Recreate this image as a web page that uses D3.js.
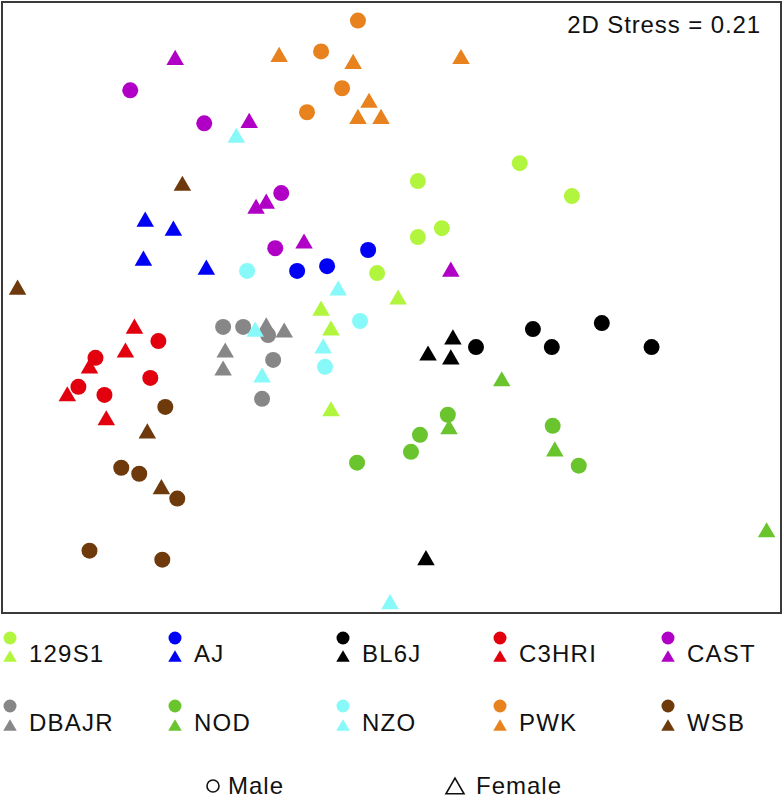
<!DOCTYPE html>
<html>
<head>
<meta charset="utf-8">
<script src="https://cdn.jsdelivr.net/npm/d3@7"></script>
<style>
  html, body { margin: 0; padding: 0; background: #fff; }
  svg { display: block; }
  text { font-family: "Liberation Sans", Arial, Helvetica, sans-serif; fill: #111; }
</style>
</head>
<body>
<svg id="chart" width="783" height="801"></svg>
<script>
// ---------------- data (NMDS coordinates) ----------------
const strains = ["129S1", "AJ", "BL6J", "C3HRI", "CAST", "DBAJR", "NOD", "NZO", "PWK", "WSB"];
const strainColors = ["#B2F53F", "#0000F5", "#000000", "#E3000E", "#B000C6", "#878787", "#6AC42E", "#88F9F9", "#E8821F", "#6E3A0C"];
const stressLabel = "2D Stress = 0.21";
const sexLabels = ["Male", "Female"];

const male129S1   = [[0.428,0.482],[0.088,0.422],[0.602,0.372],[0.168,0.265],[0.088,0.235],[-0.048,0.115]];
const female129S1 = [[0.022,0.035],[-0.235,-0.002],[-0.202,-0.068],[-0.202,-0.338]];
const maleAJ      = [[-0.078,0.192],[-0.315,0.122],[-0.215,0.138]];
const femaleAJ    = [[-0.822,0.295],[-0.728,0.265],[-0.828,0.165],[-0.618,0.135]];
const maleBL6J    = [[0.282,-0.132],[0.472,-0.072],[0.535,-0.132],[0.702,-0.052],[0.868,-0.132]];
const femaleBL6J  = [[0.122,-0.152],[0.205,-0.098],[0.198,-0.165],[0.115,-0.835]];
const maleC3HRI   = [[-0.778,-0.112],[-0.988,-0.168],[-0.805,-0.235],[-1.045,-0.265],[-0.958,-0.292]];
const femaleC3HRI = [[-0.858,-0.062],[-0.888,-0.142],[-1.008,-0.195],[-1.082,-0.288],[-0.952,-0.368]];
const maleCAST    = [[-0.872,0.725],[-0.625,0.615],[-0.368,0.382],[-0.388,0.198]];
const femaleCAST  = [[-0.722,0.835],[-0.475,0.625],[-0.418,0.355],[-0.452,0.338],[-0.292,0.222],[0.198,0.128]];
const maleDBAJR   = [[-0.562,-0.065],[-0.495,-0.065],[-0.412,-0.092],[-0.395,-0.175],[-0.432,-0.305]];
const femaleDBAJR = [[-0.418,-0.058],[-0.358,-0.075],[-0.555,-0.142],[-0.562,-0.202]];
const maleNOD     = [[-0.115,-0.518],[0.188,-0.358],[0.095,-0.425],[0.065,-0.482],[0.538,-0.395],[0.625,-0.528]];
const femaleNOD   = [[0.368,-0.238],[0.192,-0.398],[0.545,-0.472],[1.252,-0.742]];
const maleNZO     = [[-0.482,0.122],[-0.105,-0.045],[-0.222,-0.198]];
const femaleNZO   = [[-0.518,0.575],[-0.178,0.065],[-0.455,-0.072],[-0.228,-0.128],[-0.432,-0.225],[-0.005,-0.982]];
const malePWK     = [[-0.112,0.958],[-0.235,0.855],[-0.165,0.732],[-0.282,0.652]];
const femalePWK   = [[-0.375,0.845],[-0.128,0.822],[-0.075,0.692],[-0.112,0.638],[-0.035,0.638],[0.232,0.838]];
const maleWSB     = [[-0.755,-0.332],[-0.902,-0.535],[-0.842,-0.555],[-0.715,-0.638],[-1.008,-0.812],[-0.765,-0.842]];
const femaleWSB   = [[-0.698,0.415],[-1.248,0.068],[-0.815,-0.412],[-0.768,-0.598]];

const maleSets   = [male129S1, maleAJ, maleBL6J, maleC3HRI, maleCAST, maleDBAJR, maleNOD, maleNZO, malePWK, maleWSB];
const femaleSets = [female129S1, femaleAJ, femaleBL6J, femaleC3HRI, femaleCAST, femaleDBAJR, femaleNOD, femaleNZO, femalePWK, femaleWSB];

// ---------------- build point table ----------------
const points = [];
strains.forEach((s, i) => {
  maleSets[i].forEach(p => points.push({strain: s, sex: "Male", x: p[0], y: p[1], color: strainColors[i]}));
  femaleSets[i].forEach(p => points.push({strain: s, sex: "Female", x: p[0], y: p[1], color: strainColors[i]}));
});

// ---------------- layout ----------------
const svg = d3.select("#chart");
const frame = {left: 2, top: 2, right: 781, bottom: 613};

const x = d3.scaleLinear().domain([-1.3, 1.3]).range([frame.left, frame.right]);
const y = d3.scaleLinear().domain([-1.02, 1.02]).range([frame.bottom, frame.top]);

// triangle centred on its bounding box
function triPath(cx, cy, w) {
  const h = w * Math.sqrt(3) / 2;
  return `M${cx},${cy - h / 2}L${cx + w / 2},${cy + h / 2}L${cx - w / 2},${cy + h / 2}Z`;
}

// plot frame
svg.append("rect")
  .attr("x", frame.left).attr("y", frame.top)
  .attr("width", frame.right - frame.left).attr("height", frame.bottom - frame.top)
  .attr("fill", "#fff").attr("stroke", "#3a3a3a").attr("stroke-width", 2);

// points
const g = svg.append("g");
points.forEach(d => {
  if (d.sex === "Male") {
    g.append("circle").attr("cx", x(d.x)).attr("cy", y(d.y)).attr("r", 8).attr("fill", d.color);
  } else {
    g.append("path").attr("d", triPath(x(d.x), y(d.y), 17.5)).attr("fill", d.color);
  }
});

// stress annotation
svg.append("text")
  .attr("x", 761).attr("y", 33)
  .attr("text-anchor", "end")
  .attr("font-size", 24).attr("letter-spacing", "0.9px")
  .text(stressLabel);

// ---------------- legend ----------------
const legCols = [10, 175, 343, 500, 668];
const legRows = [{c: 638, t: 656, b: 662}, {c: 706, t: 725, b: 731}];
strains.forEach((s, i) => {
  const col = legCols[i % 5];
  const row = legRows[Math.floor(i / 5)];
  const lg = svg.append("g");
  lg.append("circle").attr("cx", col).attr("cy", row.c).attr("r", 6.5).attr("fill", strainColors[i]);
  lg.append("path").attr("d", triPath(col, row.t, 13.5)).attr("fill", strainColors[i]);
  lg.append("text").attr("x", col + 19).attr("y", row.b)
    .attr("font-size", 24).attr("letter-spacing", "1.2px").text(s);
});

// sex legend
svg.append("circle").attr("cx", 213).attr("cy", 786).attr("r", 6)
  .attr("fill", "none").attr("stroke", "#111").attr("stroke-width", 1.6);
svg.append("text").attr("x", 228).attr("y", 794).attr("font-size", 24).attr("letter-spacing", "1px").text(sexLabels[0]);
svg.append("path").attr("d", triPath(455, 786, 18)).attr("fill", "none").attr("stroke", "#111").attr("stroke-width", 1.6);
svg.append("text").attr("x", 476).attr("y", 794).attr("font-size", 24).attr("letter-spacing", "1px").text(sexLabels[1]);
</script>
</body>
</html>
